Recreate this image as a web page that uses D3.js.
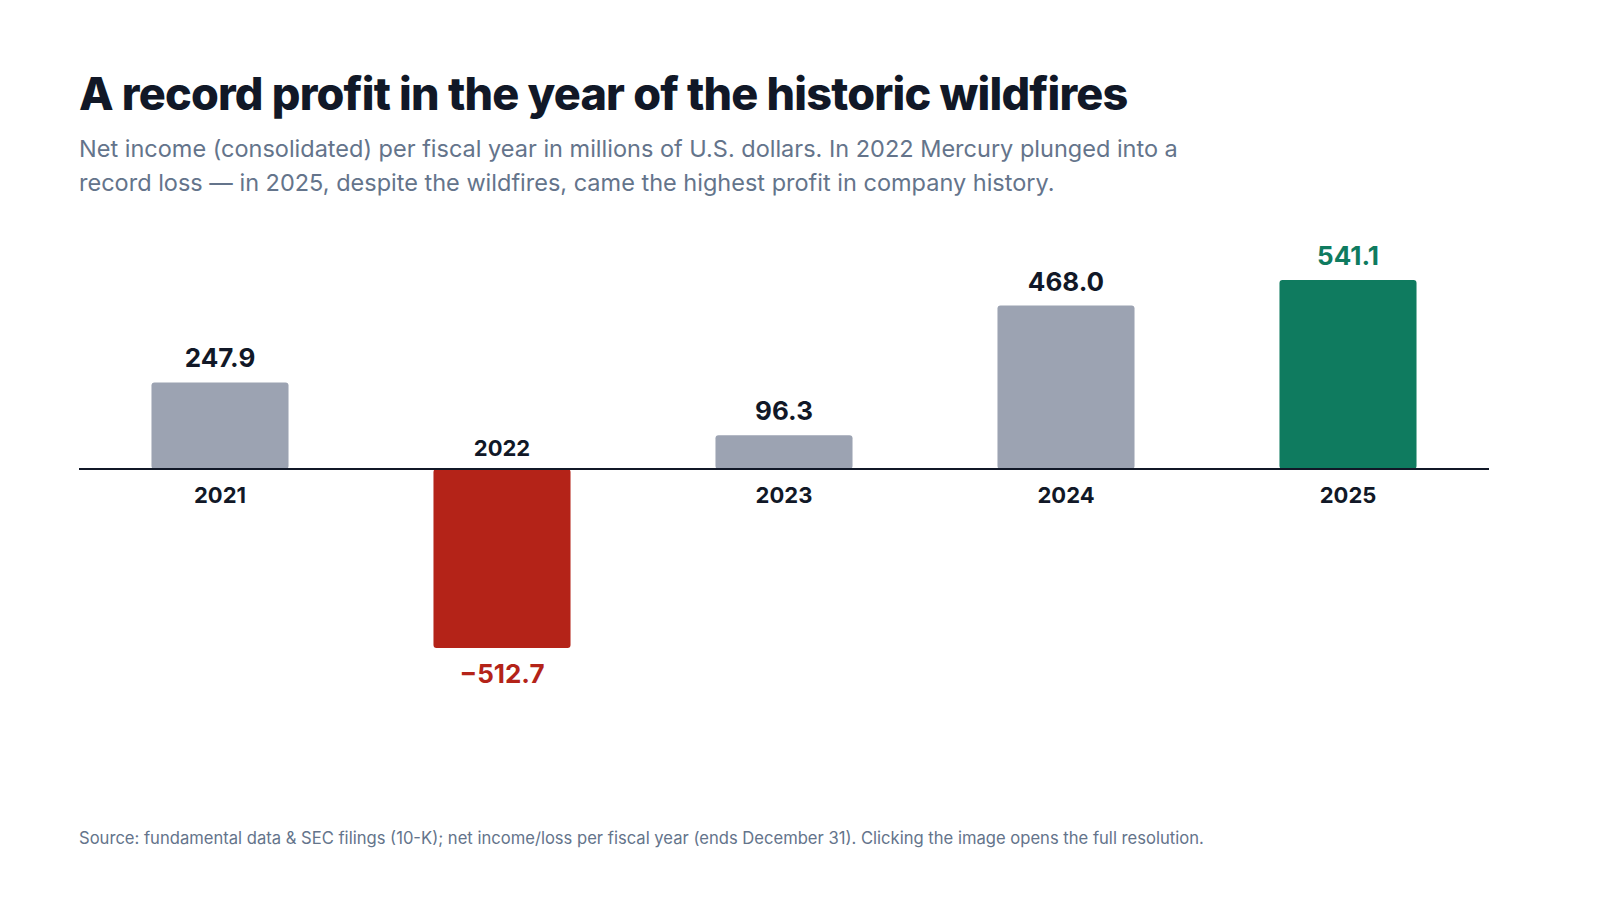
<!DOCTYPE html>
<html><head><meta charset="utf-8">
<script src="https://cdn.jsdelivr.net/npm/d3@7"></script>
<style>body{margin:0;background:#fff;font-family:Inter,"Noto Sans",sans-serif}</style>
</head><body><svg id="c" width="1600" height="900"></svg>
<script>
const years = ["2021", "2022", "2023", "2024", "2025"];
const netIncome = [247.9, -512.7, 96.3, 468.0, 541.1];
const labels = ["247.9", "\u2212512.7", "96.3", "468.0", "541.1"];

const svg = d3.select("#c");
const dark = "#111827", muted = "#64748b";

svg.append("text").attr("x", 79).attr("y", 110)
  .attr("font-size", 45).attr("font-weight", 800).attr("fill", dark).attr("letter-spacing", -0.8)
  .text("A record profit in the year of the historic wildfires");

const sub = ["Net income (consolidated) per fiscal year in millions of U.S. dollars. In 2022 Mercury plunged into a",
  "record loss \u2014 in 2025, despite the wildfires, came the highest profit in company history."];
sub.forEach((s, i) => svg.append("text").attr("x", 79).attr("y", 157 + i * 34)
  .attr("font-size", 23.5).attr("fill", muted).text(s));

const x = d3.scaleBand().domain(years).range([79, 1489]).paddingInner(0.514).paddingOuter(0.257);
const y = d3.scaleLinear().domain([-600, 600]).range([678.6, 259.4]);

const color = (d, i) => d < 0 ? "#b42318" : (i === years.length - 1 ? "#0f7b5f" : "#9ca3b2");

const g = svg.append("g");
g.selectAll("rect").data(netIncome).enter().append("rect")
  .attr("x", (d, i) => x(years[i])).attr("width", x.bandwidth())
  .attr("y", d => y(Math.max(0, d))).attr("height", d => Math.abs(y(d) - y(0)))
  .attr("rx", 3).attr("fill", color);

svg.append("line").attr("x1", 79).attr("x2", 1489).attr("y1", y(0)).attr("y2", y(0))
  .attr("stroke", dark).attr("stroke-width", 2);

g.selectAll(".val").data(netIncome).enter().append("text")
  .attr("x", (d, i) => x(years[i]) + x.bandwidth() / 2)
  .attr("y", d => d < 0 ? y(d) + 35 : y(d) - 15)
  .attr("text-anchor", "middle").attr("font-size", 26).attr("font-weight", 700)
  .attr("fill", (d, i) => d < 0 ? "#b42318" : (i === years.length - 1 ? "#0f7b5f" : dark))
  .text((d, i) => labels[i]);

g.selectAll(".cat").data(netIncome).enter().append("text")
  .attr("x", (d, i) => x(years[i]) + x.bandwidth() / 2)
  .attr("y", d => d < 0 ? y(0) - 13 : y(0) + 34)
  .attr("text-anchor", "middle").attr("font-size", 22).attr("font-weight", 700).attr("fill", dark)
  .text((d, i) => years[i]);

svg.append("text").attr("x", 79).attr("y", 844).attr("font-size", 16.6).attr("fill", muted)
  .text("Source: fundamental data & SEC filings (10-K); net income/loss per fiscal year (ends December 31). Clicking the image opens the full resolution.");
</script></body></html>
